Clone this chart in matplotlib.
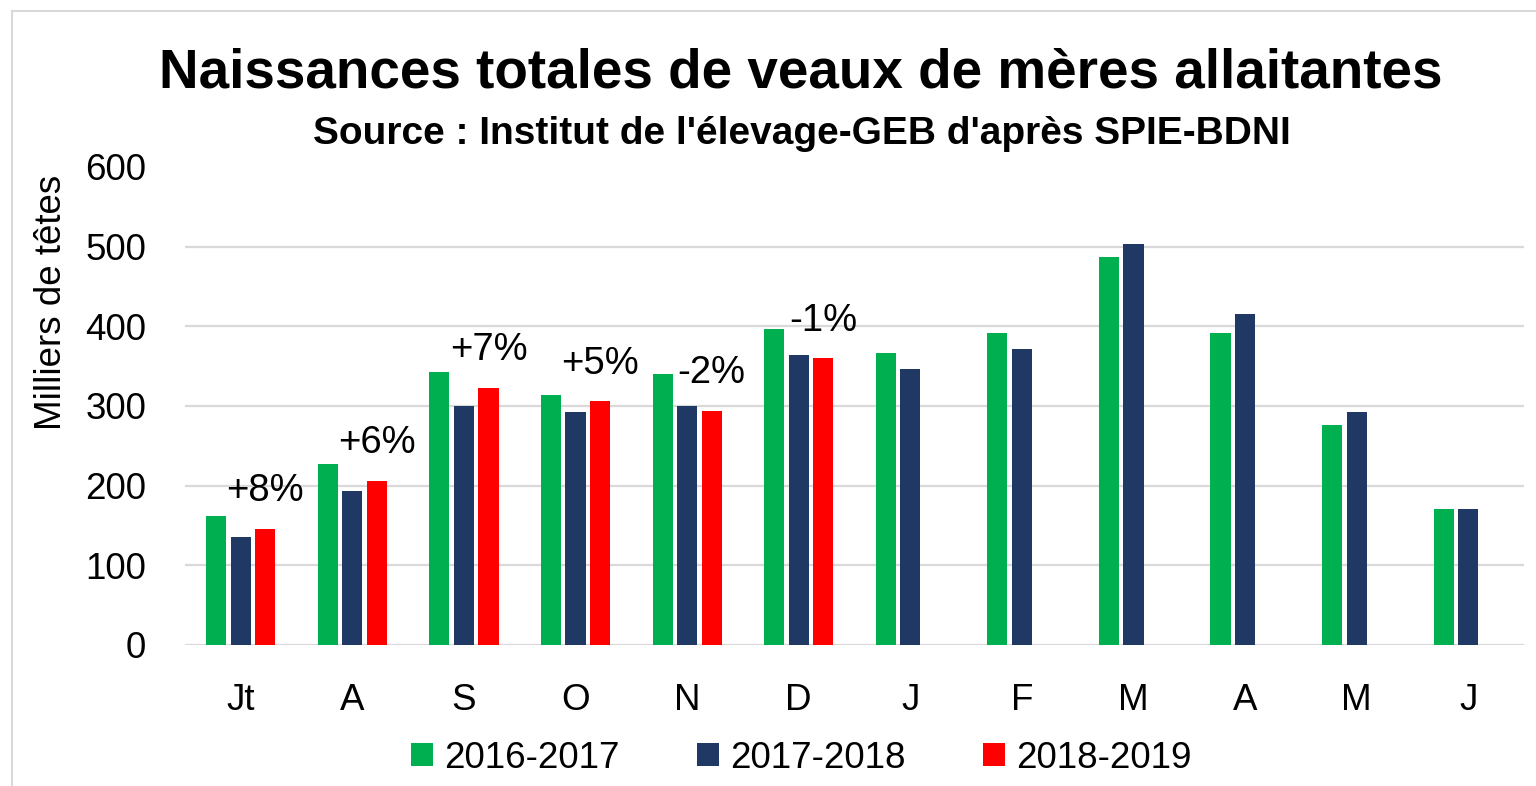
import numpy as np
import matplotlib
matplotlib.use('Agg')
import matplotlib.pyplot as plt
from matplotlib.patches import Rectangle

plt.rcParams['font.family'] = ['Liberation Sans', 'DejaVu Sans']

months = ['Jt', 'A', 'S', 'O', 'N', 'D', 'J', 'F', 'M', 'A', 'M', 'J']
s2016 = [162, 227, 343, 314, 340, 397, 366, 392, 487, 392, 276, 171]
s2017 = [135, 193, 300, 292, 300, 364, 346, 372, 503, 416, 292, 171]
s2018 = [146, 206, 323, 306, 294, 360, np.nan, np.nan, np.nan, np.nan, np.nan, np.nan]
pct_labels = ['+8%', '+6%', '+7%', '+5%', '-2%', '-1%']

series = ['2016-2017', '2017-2018', '2018-2019']
colors = ['#00B050', '#1F3864', '#FF0000']

fig = plt.figure(figsize=(15.36, 7.86), dpi=100)
ax = fig.add_axes([185/1536, 1-645/786, (1524-185)/1536, (645-167)/786])

x = np.arange(len(months))
w = 0.18
off = 0.22
for k, (vals, c, name) in enumerate(zip([s2016, s2017, s2018], colors, series)):
    ax.bar(x + (k-1)*off, vals, width=w, color=c, label=name, zorder=3)

# variation labels above the 2018-2019 bars
for i, lab in enumerate(pct_labels):
    ax.annotate(lab, (x[i] + off, s2018[i]), xytext=(0, 27), textcoords='offset points',
                ha='center', va='center', fontsize=27.5)

ax.set_xlim(-0.5, len(months)-0.5)
ax.set_ylim(0, 600)
ax.set_yticks(range(0, 601, 100))
ax.set_xticks(x)
ax.set_xticklabels(months)
ax.tick_params(axis='y', length=0, pad=28, labelsize=26.5)
ax.tick_params(axis='x', length=0, pad=27, labelsize=26.5)
ax.yaxis.grid(True, color='#D9D9D9', linewidth=1.6, zorder=0)
ax.get_ygridlines()[-1].set_visible(False)
for s in ax.spines.values():
    s.set_visible(False)

fig.text(52/1536, 1-302/786, 'Milliers de têtes', rotation=90, ha='center', va='center', fontsize=26.5)
fig.text(801/1536, 1-87/786, 'Naissances totales de veaux de mères allaitantes',
         ha='center', va='baseline', fontsize=39.5, fontweight='bold')
fig.text(802/1536, 1-144/786, "Source : Institut de l'élevage-GEB d'après SPIE-BDNI",
         ha='center', va='baseline', fontsize=28, fontweight='bold')

fig.legend(loc='center', bbox_to_anchor=(801/1536, 1-758/786), ncol=3, frameon=False,
           fontsize=26.5, handlelength=0.6, handleheight=0.6, handletextpad=0.3,
           columnspacing=2.1)

fig.patches.append(Rectangle((12/1536, -0.1), 1.2, 1.1 - 11/786, transform=fig.transFigure,
                             fill=False, edgecolor='#D9D9D9', linewidth=1.5))

fig.savefig('out.png', dpi=100)
